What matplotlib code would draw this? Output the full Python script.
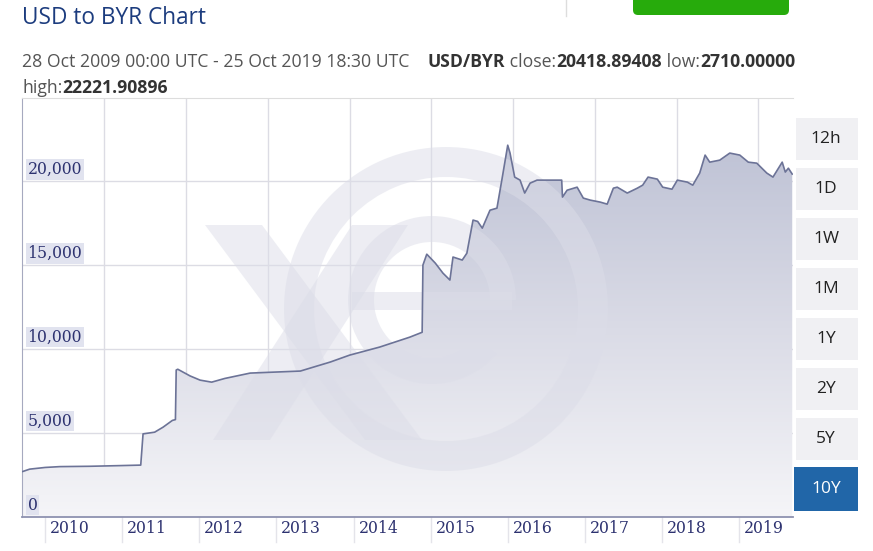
import numpy as np
import matplotlib
matplotlib.use("Agg")
import matplotlib.pyplot as plt
from matplotlib.colors import LinearSegmentedColormap
from matplotlib.patches import Rectangle, FancyBboxPatch, Wedge, Polygon

# USD/BYR close (decimal year, rate)
dates = [2009.83, 2009.92, 2010.12, 2010.31, 2010.70, 2011.09, 2011.36, 2011.39,
         2011.54, 2011.65, 2011.77, 2011.81, 2011.82, 2011.84, 2012.00, 2012.13,
         2012.28, 2012.45, 2012.78, 2013.43, 2013.82, 2014.07, 2014.46, 2014.85,
         2015.01, 2015.02, 2015.07, 2015.18, 2015.28, 2015.37, 2015.41, 2015.53,
         2015.59, 2015.67, 2015.73, 2015.79, 2015.89, 2015.98, 2016.05, 2016.12,
         2016.15, 2016.21, 2016.28, 2016.34, 2016.41, 2016.50, 2016.82, 2016.83,
         2016.89, 2017.02, 2017.10, 2017.19, 2017.32, 2017.41, 2017.49, 2017.54,
         2017.67, 2017.80, 2017.87, 2017.94, 2018.06, 2018.13, 2018.25, 2018.32,
         2018.45, 2018.52, 2018.61, 2018.68, 2018.74, 2018.87, 2019.00, 2019.13,
         2019.24, 2019.35, 2019.48, 2019.56, 2019.68, 2019.72, 2019.76, 2019.81]
rates = [2710, 2850, 2950, 3000, 3020, 3060, 3090, 4950,
         5050, 5350, 5750, 5800, 8750, 8800, 8400, 8150,
         8030, 8250, 8570, 8690, 9230, 9640, 10120, 10710,
         11000, 15000, 15650, 15120, 14520, 14110, 15480, 15300,
         15710, 17680, 17600, 17200, 18270, 18390, 20240, 22140,
         21670, 20240, 20060, 19290, 19880, 20060, 20060, 19050,
         19460, 19640, 18990, 18870, 18750, 18630, 19580, 19640,
         19290, 19580, 19760, 20240, 20120, 19640, 19520, 20060,
         19940, 19760, 20480, 21550, 21130, 21250, 21670, 21550,
         21130, 21070, 20480, 20240, 21130, 20540, 20770, 20419]

years = list(range(2010, 2020))
ytick_vals = [0, 5000, 10000, 15000, 20000]
ytick_labels = ["0", "5,000", "10,000", "15,000", "20,000"]
buttons = ["12h", "1D", "1W", "1M", "1Y", "2Y", "5Y", "10Y"]

W, H = 873, 551
fig = plt.figure(figsize=(W / 100, H / 100), dpi=100)
fig.patch.set_facecolor("white")

# overlay axes in image pixels (y down) for header, buttons, watermark
ov = fig.add_axes([0, 0, 1, 1], zorder=-1)
ov.set_xlim(0, W)
ov.set_ylim(H, 0)
ov.axis("off")

ax = fig.add_axes([22 / W, (H - 517) / H, (793 - 22) / W, (517 - 98) / H])
ax.patch.set_alpha(0)
x0, x1 = 2009.82, 2019.82
ax.set_xlim(x0, x1)
ax.set_ylim(0, 24950)

# grid
for v in ytick_vals[1:]:
    ax.axhline(v, color="#dcdce4", lw=1, zorder=0)
for g in np.arange(2010.89, x1, 1.06):
    ax.axvline(g, color="#dcdce4", lw=1, zorder=0)

ax.spines["right"].set_visible(False)
ax.spines["top"].set_color("#dddddd")
ax.spines["left"].set_color("#a6a9bf")
ax.spines["bottom"].set_color("#8e92b0")
ax.spines["bottom"].set_linewidth(1.3)
ax.set_xticks([])
ax.set_yticks([])

# gradient fill under the line
poly = ax.fill_between(dates, rates, 0, facecolor="none", edgecolor="none")
cmap = LinearSegmentedColormap.from_list("fillg", ["#f5f5f8", "#dadbe6", "#bec2d5"])
grad = np.linspace(0, 1, 256).reshape(-1, 1)
im = ax.imshow(grad, extent=[x0, x1, 0, 22500], origin="lower", aspect="auto",
               cmap=cmap, zorder=1)
im.set_clip_path(poly.get_paths()[0], transform=ax.transData)
ax.set_xlim(x0, x1)
ax.set_ylim(0, 24950)

# xe watermark (faint), drawn in image pixels
wm = dict(facecolor="#dcdde8", edgecolor="none", alpha=0.5, zorder=1.5,
          transform=ov.transData)
ax.add_patch(Polygon([(205, 225), (262, 225), (422, 440), (365, 440)], **wm))
ax.add_patch(Polygon([(352, 225), (408, 225), (270, 440), (213, 440)], **wm))
ax.add_patch(Wedge((446, 309), 162, 0, 360, width=30, **wm))
ax.add_patch(Wedge((432, 300), 84, 40, 360, width=26, **wm))
ax.add_patch(Rectangle((352, 292), 160, 18, **wm))

ax.plot(dates, rates, color="#6c7397", lw=1.2, zorder=3)

# y labels with boxes just above the gridlines
for v, lab in zip(ytick_vals, ytick_labels):
    ax.annotate(lab, xy=(0, v), xycoords=("axes fraction", "data"),
                xytext=(4, 2.5), textcoords="offset points", ha="left", va="bottom",
                fontsize=11.3, family="DejaVu Serif", color="#2d3270", zorder=4,
                bbox=dict(boxstyle="square,pad=0.12", facecolor="#e1e3ef",
                          edgecolor="none"))

# year labels with separators below the axis
xt = ax.get_xaxis_transform()
for yr in years:
    p = yr + 0.12
    ax.plot([p, p], [0, -0.06], transform=xt, clip_on=False, color="#e4e4ea", lw=1)
    ax.annotate(str(yr), xy=(p, 0), xycoords=xt, xytext=(3.5, -8.6),
                textcoords="offset points", ha="left", va="center",
                fontsize=11.3, family="DejaVu Serif", color="#2d3270",
                annotation_clip=False)

# header
ov.text(22, 18, "USD to BYR Chart", fontsize=16.3, family="Open Sans",
        color="#1c3c7e", ha="left", va="center")
ov.plot([566, 566], [0, 16], color="#dddddd", lw=1)
ov.add_patch(FancyBboxPatch((633, -10), 156, 25, boxstyle="round,pad=0,rounding_size=5",
                            facecolor="#27ab0c", edgecolor="none"))

fig.canvas.draw()
rend = fig.canvas.get_renderer()


def run_text(x, y, parts, size):
    for txt, bold in parts:
        t = ov.text(x, y, txt, fontsize=size, family="Open Sans",
                    fontweight="bold" if bold else "normal",
                    color="#333333" if bold else "#555555", ha="left", va="center")
        bb = t.get_window_extent(renderer=rend)
        x += bb.width
    return x


sub = [("28 Oct 2009 00:00 UTC - 25 Oct 2019 18:30 UTC", False), ("    ", False),
       ("USD/BYR", True), (" close:", False), ("20418.89408", True),
       (" low:", False), ("2710.00000", True)]
run_text(22, 62, sub, 12.7)
run_text(22, 88, [("high:", False), ("22221.90896", True)], 12.7)

# range buttons
for i, b in enumerate(buttons):
    top = 118 + 50 * i
    active = b == "10Y"
    if active:
        ov.add_patch(Rectangle((794, top - 1), 64, 44, facecolor="#2166a8",
                               edgecolor="none"))
    else:
        ov.add_patch(Rectangle((796, top), 62, 42, facecolor="#f0f0f3",
                               edgecolor="none"))
    ov.text(826, top + 21, b, fontsize=12.5, family="Open Sans",
            color="white" if active else "#222222", ha="center", va="center")

fig.savefig("out.png", dpi=100, facecolor="white")
